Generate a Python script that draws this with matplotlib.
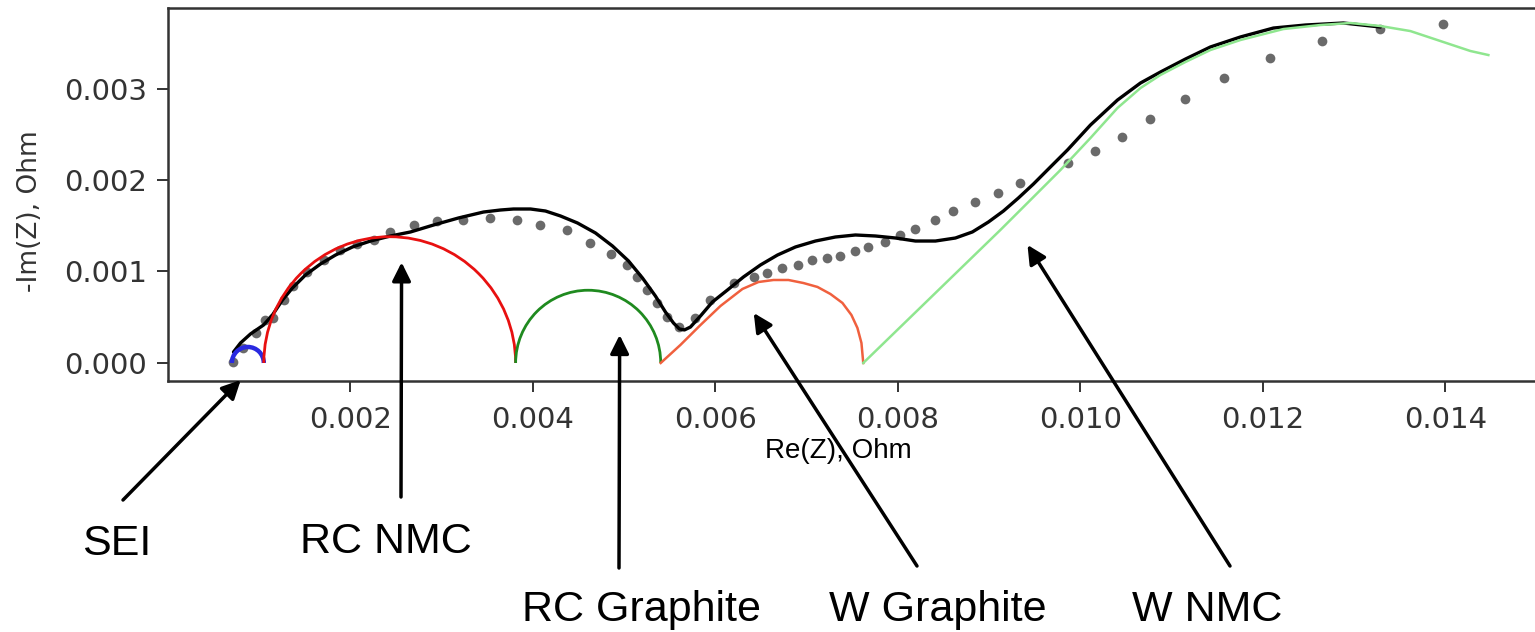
import matplotlib
matplotlib.use("Agg")
import matplotlib.pyplot as plt
from matplotlib.patches import Arc

# measured impedance (Nyquist), Ohm
re_meas = [0.000707, 0.000827, 0.000959, 0.001068, 0.001156, 0.001266, 0.001375, 0.001528,
           0.001707, 0.00189, 0.002074, 0.002257, 0.002438, 0.002694, 0.002949, 0.003238,
           0.003534, 0.00383, 0.004082, 0.004378, 0.00463, 0.00485, 0.005036, 0.005145,
           0.005255, 0.005364, 0.005474, 0.005605, 0.00578, 0.005945, 0.0062, 0.00642,
           0.00657, 0.006734, 0.0069, 0.007063, 0.007227, 0.00737, 0.007534, 0.007677,
           0.00786, 0.008027, 0.008192, 0.008411, 0.008608, 0.00885, 0.0091, 0.009342,
           0.009868, 0.010164, 0.01046, 0.010767, 0.011151, 0.011578, 0.012082, 0.012652,
           0.013288, 0.013978]
im_meas = [0.000011, 0.000164, 0.000328, 0.00047, 0.00049, 0.00069, 0.00084, 0.00099,
           0.00113, 0.00123, 0.0013, 0.001344, 0.001432, 0.001508, 0.001552, 0.001563,
           0.001585, 0.001563, 0.001508, 0.001453, 0.001311, 0.001191, 0.00107, 0.00094,
           0.000798, 0.000656, 0.000503, 0.000393, 0.00049, 0.000689, 0.000874, 0.00094,
           0.000984, 0.001038, 0.00107, 0.001126, 0.001148, 0.001169, 0.001224, 0.001268,
           0.001322, 0.001399, 0.001464, 0.001563, 0.001661, 0.00176, 0.001858, 0.001967,
           0.002186, 0.002317, 0.00247, 0.002667, 0.002885, 0.003115, 0.003333, 0.003519,
           0.00365, 0.003705]

# full model fit
re_fit = [0.000718, 0.000795, 0.000904, 0.001047, 0.001145, 0.001255, 0.001364, 0.001507,
          0.001671, 0.001836, 0.002022, 0.002219, 0.002438, 0.002658, 0.00291, 0.003184,
          0.003458, 0.003644, 0.003786, 0.003973, 0.004137, 0.004301, 0.004488, 0.004685,
          0.004871, 0.005047, 0.0052, 0.005342, 0.005452, 0.00554, 0.005605, 0.00566,
          0.005726, 0.005836, 0.005967, 0.006132, 0.006307, 0.006493, 0.00668, 0.006877,
          0.007096, 0.007315, 0.007534, 0.007753, 0.007973, 0.008192, 0.008411, 0.00863,
          0.008816, 0.008992, 0.009156, 0.00932, 0.009485, 0.009671, 0.009858, 0.01011,
          0.010406, 0.010658, 0.010877, 0.011151, 0.011425, 0.011753, 0.012115, 0.012466,
          0.012882, 0.013288]
im_fit = [0.00012, 0.000219, 0.000317, 0.000415, 0.000525, 0.000689, 0.00082, 0.000962,
          0.001082, 0.00118, 0.001268, 0.001333, 0.001388, 0.001432, 0.001508, 0.001585,
          0.00165, 0.001672, 0.001683, 0.001683, 0.001661, 0.001607, 0.00153, 0.001421,
          0.001279, 0.001115, 0.000929, 0.000732, 0.000557, 0.000437, 0.000372, 0.000361,
          0.000393, 0.000514, 0.000667, 0.000798, 0.00094, 0.001071, 0.00118, 0.001268,
          0.001333, 0.001377, 0.001399, 0.001388, 0.001366, 0.001333, 0.001333, 0.001366,
          0.001432, 0.001541, 0.001661, 0.001803, 0.001956, 0.002142, 0.002328, 0.002601,
          0.002874, 0.00306, 0.00318, 0.003322, 0.003454, 0.003563, 0.003661, 0.003694,
          0.003716, 0.003672]

# RC elements: (start, end) on the real axis
sei_span = (0.00070, 0.00105)
rc_nmc_span = (0.00105, 0.00381)
rc_graphite_span = (0.00381, 0.00540)

# Warburg elements
re_w_graphite = [0.0054, 0.005616, 0.005836, 0.006055, 0.006296, 0.006471, 0.006636, 0.0068,
                 0.006964, 0.007118, 0.00726, 0.007392, 0.00749, 0.007556, 0.0076, 0.00762]
im_w_graphite = [0.0, 0.000197, 0.000415, 0.000623, 0.000809, 0.000885, 0.000907, 0.000907,
                 0.000874, 0.000831, 0.000754, 0.000656, 0.000525, 0.000383, 0.000219, 0.0]
re_w_nmc = [0.00762, 0.009123, 0.009485, 0.009781, 0.01011, 0.010406, 0.010658, 0.010877,
            0.011151, 0.011425, 0.011753, 0.012224, 0.01263, 0.012959, 0.013288, 0.013616,
            0.013945, 0.014274, 0.014471]
im_w_nmc = [0.0, 0.001454, 0.001814, 0.002109, 0.002459, 0.002787, 0.003005, 0.003148,
            0.00329, 0.003421, 0.00353, 0.00365, 0.003694, 0.003716, 0.003683, 0.003628,
            0.003519, 0.00341, 0.003366]

labels = ["SEI", "RC NMC", "RC Graphite", "W Graphite", "W NMC"]
arrow_heads = [(0.000797, -0.000186), (0.00256, 0.0011), (0.00495, 0.000306),
               (0.00642, 0.000546), (0.00942, 0.00129)]

W, H = 1535, 632
fig = plt.figure(figsize=(W / 100, H / 100), dpi=100)
ax = fig.add_axes([168 / W, 1 - 381 / H, 1396 / W, 373 / H])

ax.plot(re_fit, im_fit, color="black", lw=2.4, zorder=3,
        solid_capstyle="round", solid_joinstyle="round")
ax.plot(re_meas, im_meas, "o", color="#6a6a6a", ms=7, mec="none", zorder=2)

for span, col, lw in [(sei_span, "#2a2ae0", 3.2), (rc_nmc_span, "#e81010", 2.0),
                      (rc_graphite_span, "#1f8a1f", 2.0)]:
    c = (span[0] + span[1]) / 2
    d = span[1] - span[0]
    ax.add_patch(Arc((c, 0), d, d, theta1=0, theta2=180, color=col, lw=lw, zorder=4))

ax.plot(re_w_graphite, im_w_graphite, color="#f0603e", lw=1.8, zorder=4,
        solid_joinstyle="round")
ax.plot(re_w_nmc, im_w_nmc, color="#8fe68f", lw=1.8, zorder=4, solid_joinstyle="round")

ax.set_xlim(0, 0.0153)
ax.set_ylim(-0.000197, 0.00388)
ax.set_xticks([0.002, 0.004, 0.006, 0.008, 0.010, 0.012, 0.014])
ax.set_yticks([0.0, 0.001, 0.002, 0.003])
ax.xaxis.set_major_formatter(matplotlib.ticker.FormatStrFormatter("%.3f"))
ax.yaxis.set_major_formatter(matplotlib.ticker.FormatStrFormatter("%.3f"))
ax.tick_params(labelsize=21, labelcolor="#333333", color="#333333", length=8, width=1.4, pad=7)
ax.tick_params(axis="x", pad=10)
for s in ax.spines.values():
    s.set_color("#333333")
    s.set_linewidth(1.8)

fig.text(30 / W, 1 - 211 / H, "-Im(Z), Ohm", rotation=90, fontsize=19, color="#333333",
         ha="center", va="center")
fig.text(838 / W, 1 - 451 / H, "Re(Z), Ohm", fontsize=20, family="Liberation Sans",
         ha="center", va="center")

# callouts
tails = [(123, 500), (401, 497), (619, 568), (917, 566), (1230, 566)]
text_pos = [(117, 555), (386, 553), (641, 621), (938, 621), (1207, 621)]
for lab, head, tail, tp in zip(labels, arrow_heads, tails, text_pos):
    ax.annotate("", xy=head, xycoords="data",
                xytext=(tail[0] / W, 1 - tail[1] / H), textcoords="figure fraction",
                arrowprops=dict(arrowstyle="-|>", color="black", lw=2.5,
                                mutation_scale=28, shrinkA=0, shrinkB=0),
                annotation_clip=False, zorder=6)
    fig.text(tp[0] / W, 1 - tp[1] / H, lab, fontsize=31, family="Liberation Sans",
             ha="center", va="baseline")

fig.savefig("out.png", dpi=100)
